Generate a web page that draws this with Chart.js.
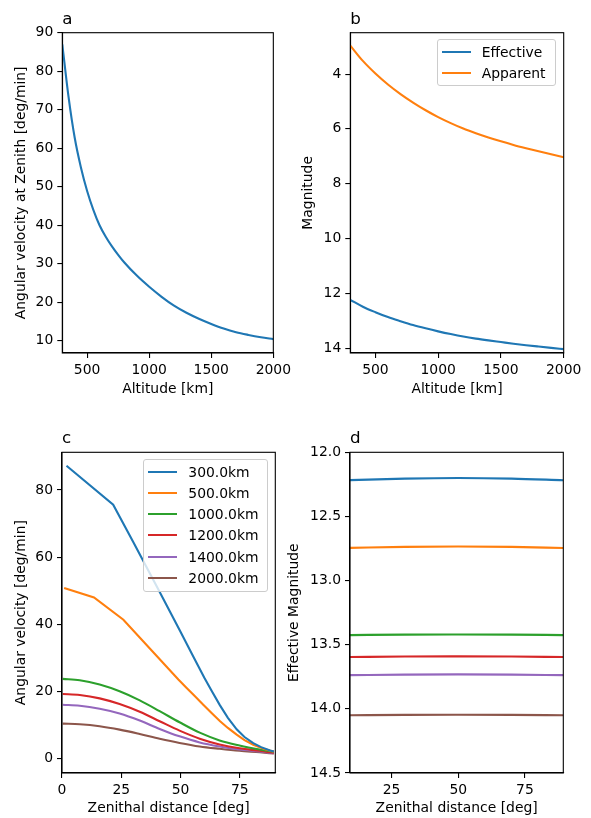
<!DOCTYPE html>
<html>
<head>
<meta charset="utf-8">
<script src="https://cdn.jsdelivr.net/npm/chart.js@4.4.0/dist/chart.umd.min.js"></script>
<style>
body { margin:0; background:#fff; width:591px; height:818px; position:relative; overflow:hidden; }
canvas { position:absolute; }
.legend { position:absolute; box-sizing:border-box; border:1px solid #ccc; border-radius:3px;
  background:rgba(255,255,255,0.8); font:13.9px 'DejaVu Sans'; color:#000; padding:1px 0 0 4px; }
.legend div { height:21.2px; display:flex; align-items:center; white-space:nowrap; }
.legend span.sw { display:inline-block; width:29px; height:2px; margin-right:11px; }
</style>
</head>
<body>
<canvas id="ca" width="295" height="400" style="left:0;top:0"></canvas>
<canvas id="cb" width="301" height="400" style="left:290px;top:0"></canvas>
<canvas id="cc" width="295" height="408" style="left:0;top:410px"></canvas>
<canvas id="cd" width="311" height="408" style="left:280px;top:410px"></canvas>
<div id="legB" class="legend" style="left:436.7px;top:39.3px;width:119px;height:46.7px"></div>
<div id="legC" class="legend" style="left:143.3px;top:459.3px;width:125px;height:132.4px"></div>
<script>
var colors = ['#1f77b4', '#ff7f0e', '#2ca02c', '#d62728', '#9467bd', '#8c564b'];

// panel a: angular velocity at zenith vs altitude
var altA = [300, 350, 400, 450, 500, 550, 600, 650, 700, 750, 800, 900, 1000, 1100, 1200, 1300, 1400, 1500, 1600, 1700, 1800, 1900, 2000];
var velZenith = [87.0, 73.4, 62.7, 55.0, 48.9, 44.0, 40.0, 37.0, 34.5, 32.3, 30.3, 26.9, 24.0, 21.4, 19.1, 17.25, 15.7, 14.35, 13.15, 12.2, 11.5, 10.9, 10.4];
var ticksAx = [500, 1000, 1500, 2000];
var ticksAy = [10, 20, 30, 40, 50, 60, 70, 80, 90];

// panel b: magnitudes vs altitude
var altB = [300, 400, 500, 600, 700, 800, 900, 1000, 1100, 1200, 1300, 1400, 1500, 1600, 1700, 1800, 1900, 2000];
var effMag = [12.24, 12.49, 12.69, 12.87, 13.02, 13.16, 13.28, 13.39, 13.49, 13.58, 13.655, 13.72, 13.78, 13.84, 13.895, 13.945, 13.993, 14.04];
var appMag = [2.96, 3.52, 3.98, 4.38, 4.73, 5.04, 5.32, 5.57, 5.79, 5.99, 6.16, 6.315, 6.455, 6.585, 6.705, 6.82, 6.93, 7.035];
var labelsB = ['Effective', 'Apparent'];
var ticksBy = [4, 6, 8, 10, 12, 14];

// panel c: angular velocity vs zenithal distance
var labelsC = ['300.0km', '500.0km', '1000.0km', '1200.0km', '1400.0km', '2000.0km'];
var zen300 = [1.9, 21.6, 30, 40, 50, 55, 60, 63, 66.6, 70, 73.7, 77, 80.7, 84, 87.8, 89.4];
var vel300 = [87.2, 75.6, 64.6, 51.3, 37.8, 31.0, 24.2, 20.4, 16.0, 12.2, 8.8, 6.5, 4.7, 3.5, 2.5, 2.2];
var zen500 = [0.9, 13.5, 25.9, 49.1, 52.6, 56, 59.6, 63, 66.7, 70, 73.7, 77, 80.7, 85, 89.4];
var vel500 = [50.8, 48.0, 41.4, 23.6, 21.1, 18.7, 16.1, 13.7, 11.2, 9.2, 7.2, 5.6, 4.2, 3.0, 2.1];
var zenSmooth = [0.3, 7.5, 15.9, 24.3, 32.8, 41.2, 49.6, 58.1, 66.5, 74.9, 83.4, 89.4];
var vel1000 = [23.8, 23.4, 22.1, 20.1, 17.4, 14.2, 10.9, 7.8, 5.5, 4.0, 2.8, 2.1];
var vel1200 = [19.3, 19.0, 18.0, 16.3, 14.0, 11.2, 8.4, 6.0, 4.3, 3.15, 2.4, 1.8];
var vel1400 = [16.1, 15.8, 14.9, 13.5, 11.4, 8.9, 6.7, 4.9, 3.7, 2.8, 2.2, 1.7];
var vel2000 = [10.5, 10.3, 9.7, 8.7, 7.4, 6.0, 4.75, 3.7, 3.0, 2.4, 1.96, 1.6];
var ticksCx = [0, 25, 50, 75];
var ticksCy = [0, 20, 40, 60, 80];

// panel d: effective magnitude vs zenithal distance
var zenD = [9.4, 30, 50, 70, 89.4];
var mag300 = [12.217, 12.205, 12.200, 12.205, 12.218];
var mag500 = [12.745, 12.737, 12.734, 12.737, 12.746];
var mag1000 = [13.425, 13.421, 13.420, 13.421, 13.425];
var mag1200 = [13.596, 13.592, 13.591, 13.592, 13.596];
var mag1400 = [13.737, 13.733, 13.731, 13.733, 13.737];
var mag2000 = [14.050, 14.047, 14.046, 14.047, 14.050];
var ticksDx = [25, 50, 75];
var ticksDy = [12.0, 12.5, 13.0, 13.5, 14.0, 14.5];

Chart.defaults.font.family = 'DejaVu Sans';
Chart.defaults.font.size = 13.9;
Chart.defaults.color = '#000';

// letter above the top-left corner of the axes
Chart.register({
  id: 'panelLabel',
  afterDraw: function(chart, args, opts) {
    var ctx = chart.ctx, a = chart.chartArea;
    ctx.save();
    ctx.font = '16.7px "DejaVu Sans"';
    ctx.fillStyle = '#000';
    ctx.textBaseline = 'alphabetic';
    ctx.fillText(opts.text || '', a.left, a.top - 9);
    ctx.restore();
  }
});
// full box around the axes like matplotlib spines
Chart.register({
  id: 'frame',
  afterDatasetsDraw: function(chart) {
    var ctx = chart.ctx, a = chart.chartArea;
    ctx.save();
    ctx.strokeStyle = '#000';
    ctx.lineWidth = 1.1;
    ctx.strokeRect(a.left, a.top, a.right - a.left, a.bottom - a.top);
    ctx.restore();
  }
});

function pts(xs, ys) {
  return xs.map(function(x, i) { return {x: x, y: ys[i]}; });
}

function scale(min, max, tickVals, title, size, titlePad, extra) {
  var s = {
    type: 'linear', min: min, max: max,
    afterBuildTicks: function(sc) { sc.ticks = tickVals.map(function(v) { return {value: v}; }); },
    afterFit: function(sc) { if (sc.isHorizontal()) sc.height = size; else sc.width = size; },
    grid: {drawOnChartArea: false, color: '#000', lineWidth: 1.1, tickLength: 5},
    border: {color: '#000', width: 1.1},
    ticks: {padding: 4, color: '#000', maxRotation: 0, callback: function(v) { return String(v); }},
    title: {display: true, text: title, color: '#000', padding: titlePad}
  };
  return Object.assign(s, extra || {});
}

function line(label, data, color, smooth) {
  return {
    label: label, data: data, borderColor: color, backgroundColor: color,
    borderWidth: 2.1, pointRadius: 0, fill: false,
    cubicInterpolationMode: smooth ? 'monotone' : 'default', tension: 0
  };
}

function opts(letter, padding, x, y) {
  return {
    responsive: false, animation: false,
    layout: {padding: padding},
    scales: {x: x, y: y},
    plugins: {legend: {display: false}, tooltip: {enabled: false}, panelLabel: {text: letter}}
  };
}

new Chart(document.getElementById('ca'), {
  type: 'line',
  data: {datasets: [line('a', pts(altA, velZenith), colors[0], true)]},
  options: opts('a', {left: 0, top: 32.7, right: 19.7, bottom: 0},
    scale(300, 2000, ticksAx, 'Altitude [km]', 47, {top: 0, bottom: 2.2}),
    scale(6.8, 90, ticksAy, 'Angular velocity at Zenith [deg/min]', 62.3, {top: 13.2, bottom: 0}))
});

new Chart(document.getElementById('cb'), {
  type: 'line',
  data: {datasets: [
    line(labelsB[0], pts(altB, effMag), colors[0], true),
    line(labelsB[1], pts(altB, appMag), colors[1], true)
  ]},
  options: opts('b', {left: 0, top: 32.7, right: 27.3, bottom: 0},
    scale(300, 2000, ticksAx, 'Altitude [km]', 47, {top: 0, bottom: 2.2}),
    scale(2.49, 14.18, ticksBy, 'Magnitude', 60.3, {top: 10.2, bottom: 0}, {reverse: true}))
});

new Chart(document.getElementById('cc'), {
  type: 'line',
  data: {datasets: [
    line(labelsC[0], pts(zen300, vel300), colors[0], false),
    line(labelsC[1], pts(zen500, vel500), colors[1], false),
    line(labelsC[2], pts(zenSmooth, vel1000), colors[2], true),
    line(labelsC[3], pts(zenSmooth, vel1200), colors[3], true),
    line(labelsC[4], pts(zenSmooth, vel1400), colors[4], true),
    line(labelsC[5], pts(zenSmooth, vel2000), colors[5], true)
  ]},
  options: opts('c', {left: 0, top: 42.3, right: 19.7, bottom: 0},
    scale(0, 90, ticksCx, 'Zenithal distance [deg]', 45, {top: 0, bottom: 1.4}),
    scale(-4.2, 91.2, ticksCy, 'Angular velocity [deg/min]', 62, {top: 13, bottom: 0}))
});

var yD = scale(12.0, 14.5, ticksDy, 'Effective Magnitude', 70, {top: 5.9, bottom: 0}, {reverse: true});
yD.ticks.callback = function(v) { return v.toFixed(1); };
new Chart(document.getElementById('cd'), {
  type: 'line',
  data: {datasets: [
    line(labelsC[0], pts(zenD, mag300), colors[0], true),
    line(labelsC[1], pts(zenD, mag500), colors[1], true),
    line(labelsC[2], pts(zenD, mag1000), colors[2], true),
    line(labelsC[3], pts(zenD, mag1200), colors[3], true),
    line(labelsC[4], pts(zenD, mag1400), colors[4], true),
    line(labelsC[5], pts(zenD, mag2000), colors[5], true)
  ]},
  options: opts('d', {left: 0, top: 42.3, right: 27.7, bottom: 0},
    scale(9.4, 89.4, ticksDx, 'Zenithal distance [deg]', 45, {top: 0, bottom: 1.4}),
    yD)
});

function buildLegend(id, labels) {
  var el = document.getElementById(id);
  labels.forEach(function(t, i) {
    var row = document.createElement('div');
    row.innerHTML = '<span class="sw" style="background:' + colors[i] + '"></span>' + t;
    el.appendChild(row);
  });
}
buildLegend('legB', labelsB);
buildLegend('legC', labelsC);
</script>
</body>
</html>
